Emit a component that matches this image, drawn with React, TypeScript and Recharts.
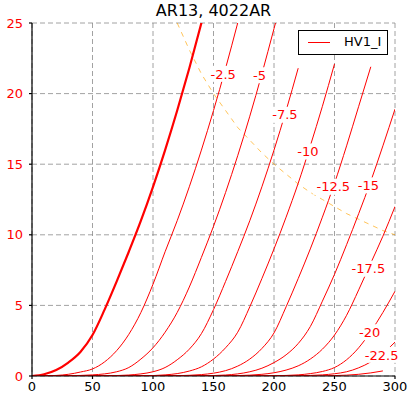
import React from "react";
import { CartesianGrid, Line, LineChart, ReferenceDot, XAxis, YAxis } from "recharts";

// plate voltage grid (V)
const VP = [
  0, 10, 20, 30, 40, 50, 60, 70, 80, 90, 100, 110, 120, 130, 140, 150, 160, 170, 180, 190, 200,
  210, 220, 230, 240, 250, 260, 270, 280, 290, 300,
];

// plate current (mA) per grid voltage
const IA_0 = [0, 0.12, 0.42, 0.95, 1.7, 2.9, 4.7, 6.7, 8.8, 11.0, 13.4, 16.0, 18.8, 21.8, 25.0, 28.3];
const IA_M2_5 = [0, 0.01, 0.04, 0.12, 0.28, 0.5, 1.0, 1.8, 2.95, 4.5, 6.5, 8.8, 11.0, 13.4, 16.0, 18.8, 21.8, 25.0, 28.3];
const IA_M5 = [0, 0, 0.01, 0.02, 0.04, 0.08, 0.15, 0.3, 0.6, 1.2, 2.0, 3.1, 4.5, 6.3, 8.4, 10.6, 13.0, 15.6, 18.4, 21.4, 24.6, 27.8];
const IA_M7_5 = [0, 0, 0, 0, 0, 0.01, 0.015, 0.03, 0.07, 0.15, 0.3, 0.6, 1.15, 1.9, 3.0, 4.7, 6.7, 8.8, 11.0, 13.4, 16.0, 18.8, 21.8];
const IA_M10 = [0, 0, 0, 0, 0, 0, 0, 0, 0, 0.01, 0.03, 0.08, 0.17, 0.35, 0.65, 1.2, 2.0, 3.1, 4.9, 6.9, 9.0, 11.25, 13.65, 16.3, 19.1, 22.1];
const IA_M12_5 = [0, 0, 0, 0, 0, 0, 0, 0, 0, 0, 0, 0.01, 0.02, 0.05, 0.1, 0.2, 0.38, 0.7, 1.2, 1.95, 3.05, 4.9, 6.9, 9.0, 11.25, 13.65, 16.3, 19.1, 21.9];
const IA_M15 = [0, 0, 0, 0, 0, 0, 0, 0, 0, 0, 0, 0, 0, 0, 0.01, 0.03, 0.07, 0.15, 0.3, 0.55, 0.95, 1.5, 2.3, 3.5, 5.3, 7.2, 9.3, 11.5, 13.8, 16.3, 18.9];
const IA_M17_5 = [0, 0, 0, 0, 0, 0, 0, 0, 0, 0, 0, 0, 0, 0, 0, 0, 0.01, 0.03, 0.06, 0.12, 0.23, 0.42, 0.72, 1.2, 1.9, 2.9, 4.3, 6.1, 8.0, 9.9, 12.0];
const IA_M20 = [0, 0, 0, 0, 0, 0, 0, 0, 0, 0, 0, 0, 0, 0, 0, 0, 0, 0, 0, 0.01, 0.02, 0.04, 0.08, 0.17, 0.32, 0.6, 1.15, 2.0, 3.15, 4.5, 6.0];
const IA_M22_5 = [0, 0, 0, 0, 0, 0, 0, 0, 0, 0, 0, 0, 0, 0, 0, 0, 0, 0, 0, 0, 0, 0.01, 0.02, 0.04, 0.08, 0.16, 0.3, 0.58, 1.0, 1.6, 2.4];
const IA_M25 = [0, 0, 0, 0, 0, 0, 0, 0, 0, 0, 0, 0, 0, 0, 0, 0, 0, 0, 0, 0, 0, 0, 0, 0, 0.015, 0.03, 0.06, 0.12, 0.22, 0.36];

const CURVES = [IA_0, IA_M2_5, IA_M5, IA_M7_5, IA_M10, IA_M12_5, IA_M15, IA_M17_5, IA_M20, IA_M22_5, IA_M25];

// max dissipation line
const PMAX_VP = [120, 130, 140, 150, 160, 170, 180, 190, 200, 210, 220, 230, 240, 250, 260, 270, 280, 290, 300];
const PMAX_IA = [25.0, 23.1, 21.4, 20.0, 18.8, 17.6, 16.7, 15.8, 15.0, 14.3, 13.6, 13.0, 12.5, 12.0, 11.5, 11.1, 10.7, 10.3, 10.0];

// grid voltage labels
const LABEL_TEXT = ["-2.5", "-5", "-7.5", "-10", "-12.5", "-15", "-17.5", "-20", "-22.5"];
const LABEL_VP = [158, 188, 209, 228, 249, 278, 278, 279, 289];
const LABEL_IA = [21.4, 21.3, 18.5, 15.9, 13.4, 13.5, 7.6, 3.1, 1.5];

const X_TICKS = [0, 50, 100, 150, 200, 250, 300];
const Y_TICKS = [0, 5, 10, 15, 20, 25];

const FONT = "DejaVu Sans, sans-serif";
const RED = "#ff0000";

const rows = VP.map((vp, i) => {
  const row: Record<string, number | null> = { vp };
  CURVES.forEach((c, k) => {
    row["g" + k] = i < c.length ? c[i] : null;
  });
  const j = PMAX_VP.indexOf(vp);
  row.pmax = j >= 0 ? PMAX_IA[j] : null;
  return row;
});

const CurveLabel = ({ cx, cy, text }: { cx: number; cy: number; text: string }) => {
  const w = text.length * 7.4 + 4;
  return (
    <g>
      <rect x={cx - w / 2} y={cy - 8} width={w} height={16} fill="#fff" />
      <text x={cx} y={cy} dy="0.36em" textAnchor="middle" fill={RED} fontSize={13} fontFamily={FONT}>
        {text}
      </text>
    </g>
  );
};

export default function App() {
  return (
    <div style={{ position: "absolute", left: 0, top: 0, width: 414, height: 399, background: "#fff" }}>
      <div
        style={{
          position: "absolute",
          left: 32,
          top: 0,
          width: 363,
          textAlign: "center",
          fontFamily: FONT,
          fontSize: 16,
          lineHeight: "21px",
        }}
      >
        AR13, 4022AR
      </div>
      <LineChart width={414} height={399} data={rows} margin={{ top: 23, right: 19, left: 8, bottom: 0 }}>
        <CartesianGrid stroke="#8a8a8a" strokeDasharray="5 3" strokeWidth={0.8} />
        <XAxis
          dataKey="vp"
          type="number"
          domain={[0, 300]}
          ticks={X_TICKS}
          allowDataOverflow
          height={23}
          stroke="#000"
          strokeWidth={1.2}
          tickSize={3}
          tickMargin={3}
          tick={{ fill: "#000", fontSize: 13, fontFamily: FONT }}
        />
        <XAxis
          xAxisId="top"
          orientation="top"
          dataKey="vp"
          type="number"
          domain={[0, 300]}
          ticks={X_TICKS}
          height={0}
          stroke="#000"
          strokeWidth={1.2}
          tickSize={3}
          tick={false}
        />
        <YAxis
          type="number"
          domain={[0, 25]}
          ticks={Y_TICKS}
          allowDataOverflow
          width={24}
          stroke="#000"
          strokeWidth={1.2}
          tickSize={3}
          tickMargin={6}
          tick={{ fill: RED, fontSize: 13, fontFamily: FONT }}
        />
        <YAxis
          yAxisId="right"
          orientation="right"
          type="number"
          domain={[0, 25]}
          ticks={Y_TICKS}
          width={0}
          stroke="#000"
          strokeWidth={1.2}
          tickSize={3}
          tick={false}
        />
        <Line
          dataKey="pmax"
          type="linear"
          stroke="#ffa500"
          strokeOpacity={0.65}
          strokeWidth={1}
          strokeDasharray="5 5"
          dot={false}
          activeDot={false}
          isAnimationActive={false}
        />
        {CURVES.map((_, k) => (
          <Line
            key={k}
            dataKey={"g" + k}
            type="monotone"
            stroke={RED}
            strokeWidth={k === 0 ? 2.2 : 1}
            dot={false}
            activeDot={false}
            isAnimationActive={false}
          />
        ))}
        {LABEL_TEXT.map((t, i) => (
          <ReferenceDot
            key={t}
            x={LABEL_VP[i]}
            y={LABEL_IA[i]}
            r={0}
            shape={(p: any) => <CurveLabel cx={p.cx} cy={p.cy} text={t} />}
          />
        ))}
      </LineChart>
      <div
        style={{
          position: "absolute",
          left: 298,
          top: 30,
          width: 88,
          height: 23,
          border: "1px solid #000",
          background: "#fff",
          fontFamily: FONT,
          fontSize: 13,
        }}
      >
        <div style={{ position: "absolute", left: 9, top: 11, width: 22, height: 1, background: RED }} />
        <div style={{ position: "absolute", left: 45, top: 3, lineHeight: "16px" }}>HV1_I</div>
      </div>
    </div>
  );
}
